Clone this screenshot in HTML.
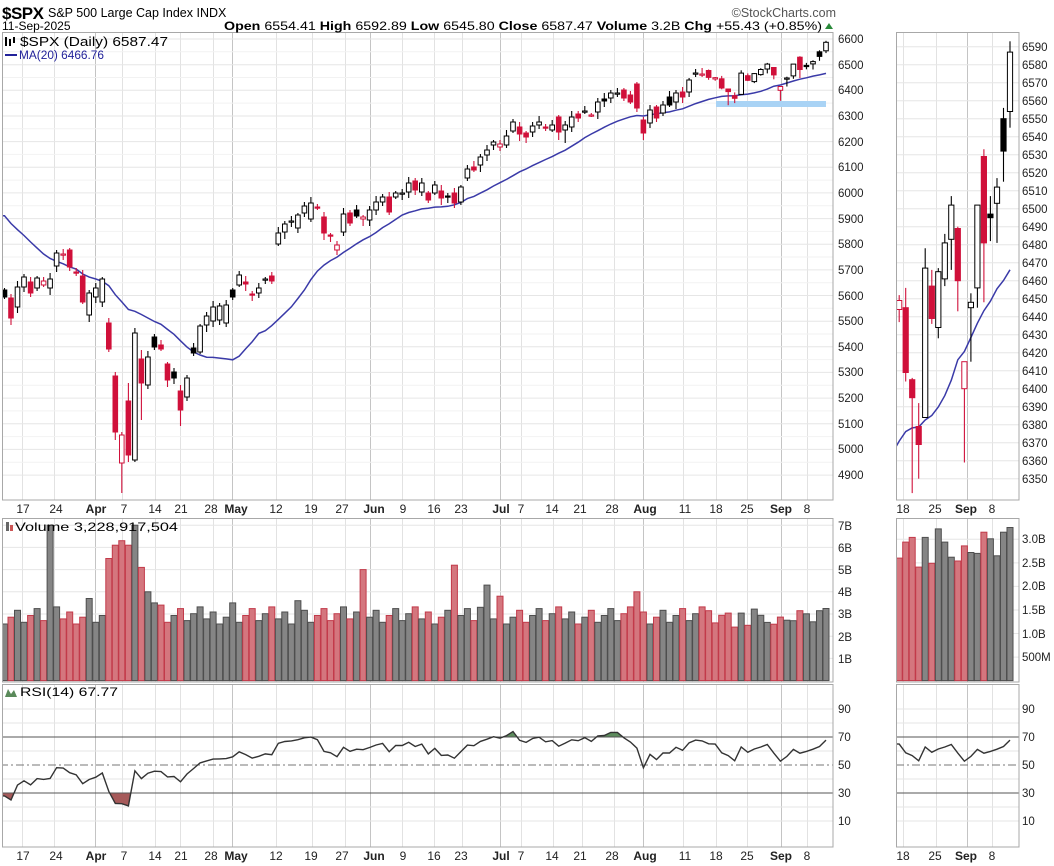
<!DOCTYPE html>
<html><head><meta charset="utf-8"><style>
html,body{margin:0;padding:0;background:#fff;}
svg{display:block;font-family:"Liberation Sans",Arial,sans-serif;}
.ax{font-size:11.5px;fill:#222;}
.dl{font-size:12px;fill:#222;}
.mb{font-weight:bold;}
</style></head><body>
<svg id="s" width="1054" height="866" viewBox="0 0 1054 866" xmlns="http://www.w3.org/2000/svg">
<defs>
<clipPath id="cm"><rect x="2" y="32" width="831" height="468"/></clipPath>
<clipPath id="cr"><rect x="896" y="32" width="123" height="468"/></clipPath>
<clipPath id="cvm"><rect x="2" y="518" width="831" height="164"/></clipPath>
<clipPath id="cvr"><rect x="896" y="518" width="123" height="164"/></clipPath>
<clipPath id="crm"><rect x="2" y="684" width="831" height="163"/></clipPath>
<clipPath id="crr"><rect x="896" y="684" width="123" height="163"/></clipPath>
<clipPath id="above70"><rect x="0" y="684" width="1054" height="53"/></clipPath>
<clipPath id="below30"><rect x="0" y="793" width="1054" height="60"/></clipPath>
</defs>
<g id="grid"></g>
<g id="data"></g>
<!-- frames -->
<g fill="none" stroke="#a8a8a8" stroke-width="1">
<rect x="2.5" y="32.5" width="830.5" height="467.5"/>
<rect x="896.5" y="32.5" width="122.5" height="467.5"/>
<rect x="2.5" y="518.5" width="830.5" height="163.5"/>
<rect x="896.5" y="518.5" width="122.5" height="163.5"/>
<rect x="2.5" y="684.5" width="830.5" height="162.5"/>
<rect x="896.5" y="684.5" width="122.5" height="162.5"/>
</g>
<!-- header -->
<text x="2" y="19" style="font-size:17px;font-weight:bold;letter-spacing:-0.5px">$SPX</text>
<text x="48" y="17" style="font-size:12.5px">S&amp;P 500 Large Cap Index <tspan>INDX</tspan></text>
<text x="836" y="17" text-anchor="end" style="font-size:12.5px;fill:#555">©StockCharts.com</text>
<text x="2" y="30" style="font-size:12px">11-Sep-2025</text>
<text x="224" y="30" style="font-size:12px" textLength="598" lengthAdjust="spacingAndGlyphs"><tspan class="mb">Open</tspan> 6554.41 <tspan class="mb">High</tspan> 6592.89 <tspan class="mb">Low</tspan> 6545.80 <tspan class="mb">Close</tspan> 6587.47 <tspan class="mb">Volume</tspan> 3.2B <tspan class="mb">Chg</tspan> +55.43 (+0.85%)</text>
<polygon points="825,29 833,29 829,23" fill="#2a8a3a"/>
<!-- legend -->
<g>
<rect x="5" y="37" width="2" height="9" fill="#000"/><rect x="9" y="39" width="2" height="7" fill="#000"/><rect x="13" y="37" width="2" height="6" fill="#000"/>
<text x="20" y="46" style="font-size:12.5px" textLength="148" lengthAdjust="spacingAndGlyphs">$SPX (Daily) 6587.47</text>
<line x1="5" y1="55" x2="17" y2="55" stroke="#22229a" stroke-width="2"/>
<text x="19" y="59" style="font-size:11.5px;fill:#22229a" textLength="85" lengthAdjust="spacingAndGlyphs">MA(20) 6466.76</text>
</g>
<g>
<rect x="6" y="522" width="3" height="9" fill="#666"/><rect x="10" y="525" width="3" height="6" fill="#c55"/>
<text x="15" y="531" style="font-size:12px" textLength="163" lengthAdjust="spacingAndGlyphs">Volume 3,228,917,504</text>
</g>
<g>
<polygon points="5,697 8,689 11,694 14,690 17,697" fill="#5a8a5a"/>
<text x="20" y="696" style="font-size:12px" textLength="98" lengthAdjust="spacingAndGlyphs">RSI(14) 67.77</text>
</g>
<!-- main price axis -->
<g class="ax">
<text x="838" y="43">6600</text><text x="838" y="69">6500</text><text x="838" y="94">6400</text><text x="838" y="120">6300</text><text x="838" y="146">6200</text><text x="838" y="171">6100</text><text x="838" y="197">6000</text><text x="838" y="223">5900</text><text x="838" y="248">5800</text><text x="838" y="274">5700</text><text x="838" y="300">5600</text><text x="838" y="325">5500</text><text x="838" y="351">5400</text><text x="838" y="376">5300</text><text x="838" y="402">5200</text><text x="838" y="428">5100</text><text x="838" y="453">5000</text><text x="838" y="479">4900</text>
</g>
<g class="ax">
<text x="1022" y="51">6590</text><text x="1022" y="69">6580</text><text x="1022" y="87">6570</text><text x="1022" y="105">6560</text><text x="1022" y="123">6550</text><text x="1022" y="141">6540</text><text x="1022" y="159">6530</text><text x="1022" y="177">6520</text><text x="1022" y="195">6510</text><text x="1022" y="213">6500</text><text x="1022" y="231">6490</text><text x="1022" y="249">6480</text><text x="1022" y="267">6470</text><text x="1022" y="285">6460</text><text x="1022" y="303">6450</text><text x="1022" y="321">6440</text><text x="1022" y="339">6430</text><text x="1022" y="357">6420</text><text x="1022" y="375">6410</text><text x="1022" y="393">6400</text><text x="1022" y="411">6390</text><text x="1022" y="429">6380</text><text x="1022" y="447">6370</text><text x="1022" y="465">6360</text><text x="1022" y="483">6350</text>
</g>
<g class="ax">
<text x="838" y="530">7B</text><text x="838" y="552">6B</text><text x="838" y="574">5B</text><text x="838" y="596">4B</text><text x="838" y="618">3B</text><text x="838" y="641">2B</text><text x="838" y="663">1B</text>
<text x="1022" y="543">3.0B</text><text x="1022" y="567">2.5B</text><text x="1022" y="590">2.0B</text><text x="1022" y="614">1.5B</text><text x="1022" y="638">1.0B</text><text x="1022" y="661">500M</text>
<text x="838" y="713">90</text><text x="838" y="741">70</text><text x="838" y="769">50</text><text x="838" y="797">30</text><text x="838" y="825">10</text>
<text x="1022" y="713">90</text><text x="1022" y="741">70</text><text x="1022" y="769">50</text><text x="1022" y="797">30</text><text x="1022" y="825">10</text>
</g>
<!-- date labels -->
<g class="dl" text-anchor="middle">
<g transform="translate(0,513)">
<text x="23">17</text><text x="56">24</text><text x="96" class="mb">Apr</text><text x="124">7</text><text x="155">14</text><text x="181">21</text><text x="211">28</text><text x="236" class="mb">May</text><text x="276">12</text><text x="311">19</text><text x="342">27</text><text x="374" class="mb">Jun</text><text x="403">9</text><text x="434">16</text><text x="461">23</text><text x="501" class="mb">Jul</text><text x="521">7</text><text x="552">14</text><text x="580">21</text><text x="612">28</text><text x="645" class="mb">Aug</text><text x="685">11</text><text x="716">18</text><text x="747">25</text><text x="781" class="mb">Sep</text><text x="807">8</text>
<text x="903">18</text><text x="935">25</text><text x="966" class="mb">Sep</text><text x="992">8</text>
</g>
<g transform="translate(0,860)">
<text x="23">17</text><text x="56">24</text><text x="96" class="mb">Apr</text><text x="124">7</text><text x="155">14</text><text x="181">21</text><text x="211">28</text><text x="236" class="mb">May</text><text x="276">12</text><text x="311">19</text><text x="342">27</text><text x="374" class="mb">Jun</text><text x="403">9</text><text x="434">16</text><text x="461">23</text><text x="501" class="mb">Jul</text><text x="521">7</text><text x="552">14</text><text x="580">21</text><text x="612">28</text><text x="645" class="mb">Aug</text><text x="685">11</text><text x="716">18</text><text x="747">25</text><text x="781" class="mb">Sep</text><text x="807">8</text>
<text x="903">18</text><text x="935">25</text><text x="966" class="mb">Sep</text><text x="992">8</text>
</g>
</g>
</svg>
<script>
(function(){
var NS="http://www.w3.org/2000/svg";
var out=[],grid=[];
var Y=[[290,297],[298,318],[307,287],[287,277],[282,293],[288,278],[285,281],[288,279],[266,253],[255,254],[250,267],[272,273],[276,302],[315,293],[297,288],[302,279],[323,349],[376,432],[463,435],[401,455],[460,333],[359,383],[385,357],[337,347],[345,349],[364,380],[372,378],[391,410],[397,378],[348,353],[352,326],[325,316],[321,307],[320,306],[323,305],[290,297],[285,275],[282,284],[294,295],[293,288],[280,279],[276,281],[244,233],[232,224],[221,221],[228,215],[213,206],[219,203],[207,208],[217,233],[235,236],[250,245],[232,214],[213,223],[210,216],[219,217],[220,210],[210,202],[202,197],[197,212],[197,193],[193,193],[192,183],[181,190],[192,183],[193,200],[193,185],[191,198],[196,197],[193,203],[202,187],[178,169],[167,170],[165,157],[155,150],[145,142],[147,144],[145,136],[131,122],[127,134],[133,137],[132,126],[125,122],[127,128],[130,125],[117,132],[130,125],[127,117],[114,118],[111,111],[115,115],[112,102],[99,101],[98,93],[93,93],[90,98],[95,102],[84,108],[120,133],[123,110],[107,118],[113,105],[97,105],[102,93],[92,97],[92,80],[73,73],[74,74]];
var R=[[6477,6481,6441,6450],[6444,6452,6437,6449],[6445,6456,6404,6409],[6405,6406,6342,6395],[6379,6392,6350,6369],[6384,6478,6384,6467],[6457,6466,6436,6439],[6434,6467,6428,6465],[6461,6486,6457,6481],[6483,6507,6466,6502],[6489,6490,6443,6460],[6400,6414,6359,6415],[6445,6453,6415,6448],[6456,6502,6445,6502],[6529,6533,6448,6481],[6497,6507,6482,6495],[6503,6517,6481,6512],[6550,6556,6515,6532],[6554,6593,6545,6587]];
var WO={17:[372,440],18:[null,493],19:[383,462],20:[328,462],21:[350,420],16:[318,352],27:[385,426],86:[null,143],97:[82,112],98:[null,140],70:[null,205],85:[null,140]};
function py(y){return 6600-(y-39)/0.2565;}
function my(p){return 39+(6600-p)*0.2565;}
function ry(p){return 46.7+(6590-p)*1.8;}
var B=[];
for(var i=0;i<Y.length;i++){
 var oy=Y[i][0],cy=Y[i][1];
 var hy=Math.min(oy,cy)-(2+(i*7)%5),ly=Math.max(oy,cy)+(2+(i*11)%6);
 if(WO[i]){if(WO[i][0]!=null)hy=WO[i][0];if(WO[i][1]!=null)ly=WO[i][1];}
 B.push({o:py(oy),h:py(hy),l:py(ly),c:py(cy)});
}
for(var j=0;j<R.length;j++)B.push({o:R[j][0],h:R[j][1],l:R[j][2],c:R[j][3]});
var N=B.length;
function X(i){return 826-(N-1-i)*6.52;}
var pre=[6068,6051,6115,6114,6129,6117,6144,6117,6013,5983,5955,5956,5861,5955,5849,5778,5842,5738,5770,5614,5572];
var closes=pre.concat(B.map(function(b){return b.c;}));
var P=pre.length;
// MA20
var ma=[];
for(var i=0;i<N;i++){var s=0;for(var k=0;k<20;k++)s+=closes[P+i-k];ma.push(s/20);}
// RSI14 Wilder
var ag=0,al=0;
for(var k=1;k<=14;k++){var d=closes[k]-closes[k-1];if(d>0)ag+=d;else al-=d;}
ag/=14;al/=14;
var rsiAll=[];
for(var k=15;k<closes.length;k++){var d=closes[k]-closes[k-1];ag=(ag*13+Math.max(d,0))/14;al=(al*13+Math.max(-d,0))/14;rsiAll[k]=100-100/(1+ag/al);}
var rsi=[];for(var i=0;i<N;i++)rsi.push(rsiAll[P+i]);
// scale last to 67.77
function rY(v){return 793-(v-30)*1.4;}
// volumes
var V=[];
for(var i=0;i<N;i++)V.push(2.55+((i*37)%11)/13);
var VO={7:7.0,13:3.7,16:5.5,17:6.1,18:6.3,19:6.1,20:7.0,21:5.1,22:4.0,23:3.5,24:3.4,35:3.5,45:3.6,55:5.0,69:5.2,74:4.3,97:4.0,73:3.3,76:3.8};
for(var k in VO)V[k]=VO[k];
var RV=[3.15,2.60,2.94,3.04,2.41,3.04,2.49,3.22,2.94,2.62,2.54,2.86,2.72,2.70,3.15,3.01,2.65,3.15,3.25];
for(var j=0;j<RV.length;j++)V[108+j]=RV[j];
// grid
var gx=[[22,0],[54,0],[95,1],[122,0],[155,0],[180,0],[213,0],[232,1],[276,0],[312,0],[345,0],[370,1],[402,0],[434,0],[462,0],[500,1],[521,0],[553,0],[582,0],[614,0],[643,1],[683,0],[716,0],[747,0],[781,1],[807,0]];
var rgx=[[903,0],[936,0],[967,1],[992,0]];
function vl(x,y1,y2,dark){grid.push('<line x1="'+(x+.5)+'" y1="'+y1+'" x2="'+(x+.5)+'" y2="'+y2+'" stroke="'+(dark?'#c4c4c4':'#e2e2e2')+'" stroke-width="1"/>');}
function hl(x1,x2,y,c){grid.push('<line x1="'+x1+'" y1="'+y+'" x2="'+x2+'" y2="'+y+'" stroke="'+(c||'#e6e6e6')+'" stroke-width="1"/>');}
[[32,500],[518,682],[684,847]].forEach(function(r){gx.forEach(function(g){vl(g[0],r[0],r[1],g[1]);});rgx.forEach(function(g){vl(g[0],r[0],r[1],g[1]);});});
for(var p=4900;p<=6600;p+=100)hl(2,833,my(p).toFixed(1));
for(var p=4950;p<=6550;p+=100)hl(2,833,my(p).toFixed(1),'#f2f2f2');
for(var p=6350;p<=6590;p+=10)hl(896,1019,ry(p).toFixed(1));
for(var v=1;v<=7;v++)hl(2,833,(680.6-v*22.2).toFixed(1));
for(var v=0.5;v<=3.01;v+=0.5)hl(896,1019,(680.6-v*47.1).toFixed(1));
for(var v=10;v<=90;v+=10){if(v==30||v==50||v==70)continue;hl(2,833,rY(v));hl(896,1019,rY(v));}
document.getElementById('grid').innerHTML=grid.join('');
// candles
var RED='#d0103a';
function candles(off,yf,from,clip){
 var s='<g clip-path="url(#'+clip+')">';
 for(var i=from;i<N;i++){
  var b=B[i],x=X(i)+off,prev=i>0?B[i-1].c:closes[P-1];
  var col=b.c<prev?RED:'#000';
  var yo=yf(b.o),yc=yf(b.c),yh=yf(b.h),yl=yf(b.l);
  var top=Math.min(yo,yc),hgt=Math.max(Math.abs(yo-yc),1.2);
  var w=off?5.2:4.6;
  s+='<line x1="'+x.toFixed(1)+'" y1="'+yh.toFixed(1)+'" x2="'+x.toFixed(1)+'" y2="'+yl.toFixed(1)+'" stroke="'+col+'" stroke-width="1.1"/>';
  var fill=b.c<b.o?col:'#fff';
  s+='<rect x="'+(x-w/2).toFixed(1)+'" y="'+top.toFixed(1)+'" width="'+w+'" height="'+hgt.toFixed(1)+'" fill="'+fill+'" stroke="'+col+'" stroke-width="1"/>';
 }
 return s+'</g>';
}
function maLine(off,yf,from,clip){
 var pts=[];for(var i=from;i<N;i++)pts.push((X(i)+off).toFixed(1)+','+yf(ma[i]).toFixed(1));
 if(!off)pts.unshift('2,'+yf(ma[0]).toFixed(1));
 return '<polyline clip-path="url(#'+clip+')" points="'+pts.join(' ')+'" fill="none" stroke="#3a3aa8" stroke-width="1.5"/>';
}
function vols(off,scale,from,clip){
 var s='<g clip-path="url(#'+clip+')">';
 for(var i=from;i<N;i++){
  var prev=i>0?B[i-1].c:closes[P-1];var dn=B[i].c<prev;
  var x=X(i)+off,h=V[i]*scale,y=680.6-h;
  s+='<rect x="'+(x-3.0).toFixed(1)+'" y="'+y.toFixed(1)+'" width="6.0" height="'+h.toFixed(1)+'" fill="'+(dn?'#d4767e':'#858585')+'" stroke="'+(dn?'#c23a4a':'#4e4e4e')+'" stroke-width="1"/>';
 }
 return s+'</g>';
}
function rsiLine(off,from,clip){
 var pts=[];for(var i=from;i<N;i++)pts.push((X(i)+off).toFixed(1)+','+rY(rsi[i]).toFixed(1));
 if(!off)pts.unshift('2,'+rY(rsi[0]).toFixed(1));
 var x0=pts[0].split(',')[0],x1=pts[pts.length-1].split(',')[0];
 var s='<g clip-path="url(#'+clip+')">';
 s+='<polygon clip-path="url(#above70)" points="'+x0+',737 '+pts.join(' ')+' '+x1+',737" fill="#5d8c5d"/>';
 s+='<polygon clip-path="url(#below30)" points="'+x0+',793 '+pts.join(' ')+' '+x1+',793" fill="#a65a5a"/>';
 s+='<line x1="0" y1="737" x2="1054" y2="737" stroke="#555" stroke-width="1"/>';
 s+='<line x1="0" y1="793" x2="1054" y2="793" stroke="#555" stroke-width="1"/>';
 s+='<line x1="0" y1="765" x2="1054" y2="765" stroke="#777" stroke-width="1" stroke-dasharray="8,3,2,3"/>';
 s+='<polyline points="'+pts.join(' ')+'" fill="none" stroke="#333" stroke-width="1.4"/>';
 return s+'</g>';
}
// normalize rsi so last = 67.77 roughly (shift small)
var d0=67.77-rsi[N-1];for(var i=0;i<N;i++)rsi[i]+=d0*(i/(N-1));
var html='';
html+='<rect x="716" y="101" width="110" height="6" fill="#a9d3f5" clip-path="url(#cm)"/>';
html+=maLine(0,my,0,'cm')+candles(0,my,0,'cm');
html+=maLine(184,ry,106,'cr')+candles(184,ry,107,'cr');
html+=vols(0,22.2,0,'cvm')+vols(184,47.1,107,'cvr');
html+=rsiLine(0,0,'crm')+rsiLine(184,107,'crr');
document.getElementById('data').innerHTML=html;
})();
</script>
</body></html>
